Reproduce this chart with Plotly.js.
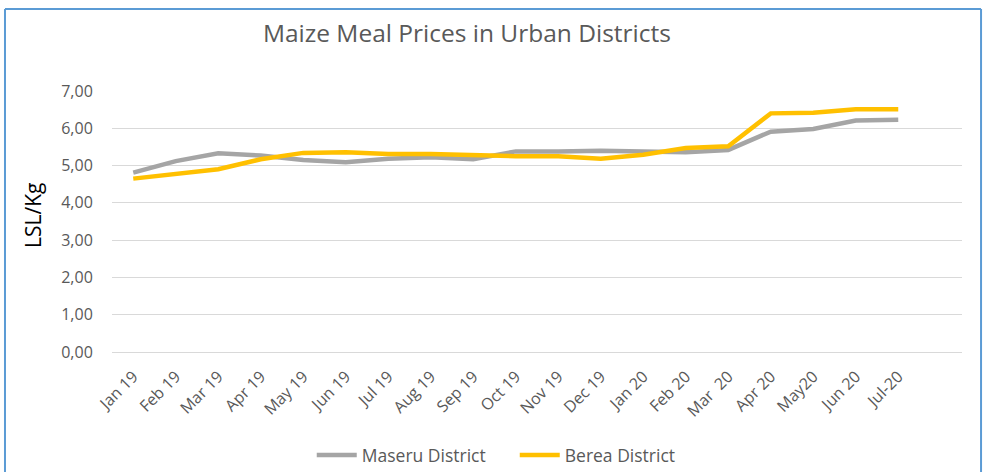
<!DOCTYPE html>
<html>
<head>
<meta charset="utf-8">
<script src="https://cdn.plot.ly/plotly-3.0.1.min.js"></script>
<style>html,body{margin:0;padding:0;background:#fff;}#chart{width:983px;height:472px;}</style>
</head>
<body>
<div id="chart"></div>
<script>
const months = ["Jan 19","Feb 19","Mar 19","Apr 19","May 19","Jun 19","Jul 19","Aug 19","Sep 19","Oct 19","Nov 19","Dec 19","Jan 20","Feb 20","Mar  20","Apr 20","May20","Jun 20","Jul-20",""];
const maseru = [4.81,5.12,5.33,5.27,5.15,5.09,5.18,5.22,5.17,5.38,5.38,5.40,5.38,5.36,5.42,5.91,5.98,6.21,6.23];
const berea  = [4.65,4.76,4.90,5.17,5.34,5.36,5.31,5.31,5.27,5.25,5.25,5.18,5.29,5.47,5.52,6.40,6.42,6.51,6.51];
const yTicks = [0,1,2,3,4,5,6,7];

const idx = months.map((_, i) => i);
const FONT = "Open Sans, Lato, sans-serif";

const traces = [
  {x: idx.slice(0, maseru.length), y: maseru, name: "Maseru District", type: "scatter", mode: "lines",
   line: {color: "#a5a5a5", width: 4.5}},
  {x: idx.slice(0, berea.length), y: berea, name: "Berea District", type: "scatter", mode: "lines",
   line: {color: "#ffc000", width: 4.5}}
];

const layout = {
  width: 983, height: 472,
  margin: {l: 112, r: 21, t: 91, b: 120, autoexpand: false},
  paper_bgcolor: "#fff", plot_bgcolor: "#fff",
  separators: ", ",
  font: {family: FONT, color: "#595959"},
  title: {text: "Maize Meal Prices in Urban Districts", x: 0.475, xanchor: "center", y: 0.93, yanchor: "middle",
          font: {family: FONT, size: 24.5, color: "#595959"}},
  xaxis: {range: [-0.5, 19.5], tickvals: idx, ticktext: months, tickangle: -45, automargin: false,
          showgrid: false, zeroline: false, showline: false, ticks: "outside", ticklen: 8, tickcolor: "rgba(0,0,0,0)",
          tickfont: {family: FONT, size: 16, color: "#595959"}, fixedrange: true},
  yaxis: {range: [0, 7], tickvals: yTicks, tickformat: ".2f", showgrid: true, gridcolor: "#d9d9d9", gridwidth: 1, automargin: false,
          zeroline: true, zerolinecolor: "#d9d9d9", zerolinewidth: 1, showline: false, ticks: "outside", ticklen: 15, tickcolor: "rgba(0,0,0,0)",
          tickfont: {family: FONT, size: 16, color: "#595959"}, fixedrange: true},
  showlegend: true,
  legend: {orientation: "h", x: 0.235, xanchor: "left", y: -0.395, yanchor: "middle",
           font: {family: FONT, size: 17.5, color: "#595959"}, itemwidth: 40, traceorder: "normal",
           entrywidth: 148, entrywidthmode: "pixels"},
  annotations: [
    {text: "LSL/Kg", xref: "paper", yref: "paper", x: -0.093, y: 0.525, xanchor: "center", yanchor: "middle",
     textangle: -90, showarrow: false, font: {family: FONT, size: 21, color: "#000"}}
  ],
  shapes: [
    {type: "line", xref: "paper", yref: "paper", x0: -0.1259, x1: 1.0224, y0: 1.314, y1: 1.314, line: {color: "#5b9bd5", width: 2}},
    {type: "line", xref: "paper", yref: "paper", x0: -0.1259, x1: -0.1259, y0: 1.314, y1: -0.5, line: {color: "#5b9bd5", width: 2}},
    {type: "line", xref: "paper", yref: "paper", x0: 1.0224, x1: 1.0224, y0: 1.314, y1: -0.5, line: {color: "#5b9bd5", width: 2}}
  ]
};

Plotly.newPlot("chart", traces, layout, {displayModeBar: false, staticPlot: true});
</script>
</body>
</html>
